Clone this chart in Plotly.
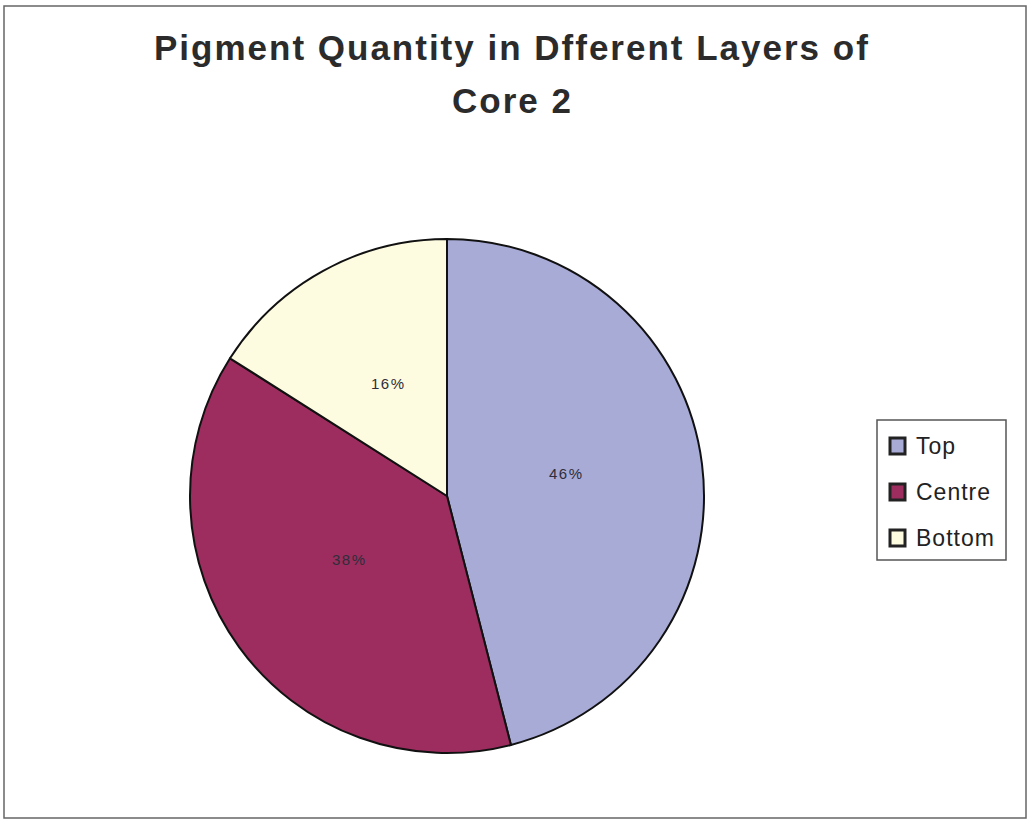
import math
import plotly.graph_objects as go

# Pigment share per core layer (percent)
layers = ["Top", "Centre", "Bottom"]
shares = [46, 38, 16]
colors = ["#a8abd6", "#9c2d5e", "#fdfbe0"]

title_lines = ["Pigment Quantity in Dfferent Layers of", "Core 2"]

W, H = 1031, 820
FONT = "Liberation Sans, Arial"

# Pie placement in pixels
cx, cy, r = 447, 496, 257
dom_x = [(cx - r) / W, (cx + r) / W]
dom_y = [1 - (cy + r) / H, 1 - (cy - r) / H]

fig = go.Figure(
    go.Pie(
        labels=layers,
        values=shares,
        sort=False,
        direction="clockwise",
        rotation=0,
        marker=dict(colors=colors, line=dict(color="#111111", width=2)),
        textinfo="none",
        hoverinfo="label+percent",
        showlegend=False,
        domain=dict(x=dom_x, y=dom_y),
    )
)

annotations = []
shapes = []


def spaced(text, px):
    return f'<span style="letter-spacing:{px}px">{text}</span>'


# Percentage labels placed along each slice's mid-angle
total = sum(shares)
cum = 0
for lab, v in zip(layers, shares):
    mid = (cum + v / 2) / total * 2 * math.pi
    cum += v
    d = 0.47 * r
    px = cx + d * math.sin(mid)
    py = cy - d * math.cos(mid) - 7
    annotations.append(dict(
        x=px / W, y=1 - py / H, xref="paper", yref="paper",
        xanchor="center", yanchor="middle",
        text=spaced(f"{round(v / total * 100)}%", 1.5), showarrow=False,
        font=dict(family=FONT, size=15, color="#2e2e3a"),
    ))

# Title in two lines
for txt, ty in zip(title_lines, [26, 79]):
    annotations.append(dict(
        x=512 / W, y=1 - ty / H, xref="paper", yref="paper",
        xanchor="center", yanchor="top",
        text="<b>" + spaced(txt, 2) + "</b>", showarrow=False,
        font=dict(family=FONT, size=35, color="#2b2b2b"),
    ))

# Legend box with swatches
lx0, ly0, lx1, ly1 = 877, 420, 1006, 560
shapes.append(dict(type="rect", xref="paper", yref="paper",
                   x0=lx0 / W, x1=lx1 / W, y0=1 - ly1 / H, y1=1 - ly0 / H,
                   line=dict(color="#555555", width=1.5), fillcolor="white"))
for i, (lab, col) in enumerate(zip(layers, colors)):
    iy = 446 + i * 46
    sx0, sx1 = 890, 905
    shapes.append(dict(type="rect", xref="paper", yref="paper",
                       x0=sx0 / W, x1=sx1 / W, y0=1 - (iy + 8) / H, y1=1 - (iy - 8) / H,
                       line=dict(color="#222222", width=3), fillcolor=col))
    annotations.append(dict(
        x=914 / W, y=1 - iy / H, xref="paper", yref="paper",
        xanchor="left", yanchor="middle",
        text=spaced(lab, 1), showarrow=False,
        font=dict(family=FONT, size=23, color="#222222"),
    ))

# Outer chart frame
shapes.append(dict(type="rect", xref="paper", yref="paper",
                   x0=4 / W, x1=1026 / W, y0=1 - 818 / H, y1=1 - 6 / H,
                   line=dict(color="#666666", width=1.5)))

fig.update_layout(
    width=W, height=H,
    margin=dict(l=0, r=0, t=0, b=0),
    paper_bgcolor="white",
    plot_bgcolor="white",
    annotations=annotations,
    shapes=shapes,
)

fig.write_html("out.html")
